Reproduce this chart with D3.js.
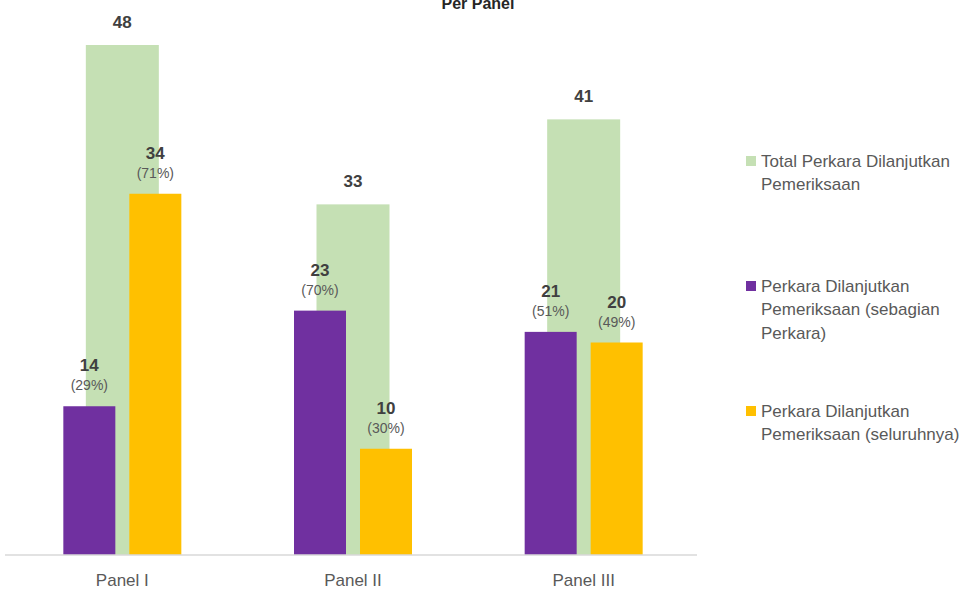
<!DOCTYPE html>
<html><head><meta charset="utf-8">
<script src="https://cdn.jsdelivr.net/npm/d3@7"></script>
<style>body{margin:0;background:#fff}svg{display:block;font-family:"Liberation Sans",Arial,sans-serif}</style>
</head><body><svg id="c" width="960" height="589"></svg>
<script>
const categories = ["Panel I", "Panel II", "Panel III"];
const totalValues = [48, 33, 41];
const sebagianValues = [14, 23, 21];
const seluruhnyaValues = [34, 10, 20];
const sebagianPct = ["(29%)", "(70%)", "(51%)"];
const seluruhnyaPct = ["(71%)", "(30%)", "(49%)"];
const legendLabels = [
  ["Total Perkara Dilanjutkan", "Pemeriksaan"],
  ["Perkara Dilanjutkan", "Pemeriksaan (sebagian", "Perkara)"],
  ["Perkara Dilanjutkan", "Pemeriksaan (seluruhnya)"]
];
const colors = ["#c5e0b4", "#7030a0", "#ffc000"];

const svg = d3.select("#c");
const x = d3.scaleBand().domain(categories).range([7, 699]);
const y = d3.scaleLinear().domain([0, 48]).range([555, 45]);

// title (partially cut, as in the reference)
svg.append("text").attr("x", 478).attr("y", 9).attr("text-anchor", "middle")
  .attr("font-weight", "bold").attr("font-size", 16).attr("fill", "#262626").text("Per Panel");

const g = svg.append("g");
const cx = d => x(d) + x.bandwidth() / 2;

g.selectAll(".tot").data(categories).join("rect")
  .attr("x", d => cx(d) - 36.5).attr("width", 73)
  .attr("y", (d, i) => y(totalValues[i])).attr("height", (d, i) => y(0) - y(totalValues[i]))
  .attr("fill", colors[0]);
g.selectAll(".seb").data(categories).join("rect")
  .attr("x", d => cx(d) - 59).attr("width", 52)
  .attr("y", (d, i) => y(sebagianValues[i])).attr("height", (d, i) => y(0) - y(sebagianValues[i]))
  .attr("fill", colors[1]);
g.selectAll(".sel").data(categories).join("rect")
  .attr("x", d => cx(d) + 7).attr("width", 52)
  .attr("y", (d, i) => y(seluruhnyaValues[i])).attr("height", (d, i) => y(0) - y(seluruhnyaValues[i]))
  .attr("fill", colors[2]);

// axis
const ax = svg.append("g").attr("transform", "translate(0,555)")
  .call(d3.axisBottom(x).tickSize(0).tickPadding(19));
ax.select(".domain").attr("stroke", "#d9d9d9").attr("stroke-width", 1.5)
  .attr("d", "M5,0H697");
ax.selectAll("text").attr("font-size", 17).attr("fill", "#595959")
  .attr("font-family", "Liberation Sans, Arial, sans-serif");

// labels
const valLab = (xs, ys, t) => svg.append("text").attr("x", xs).attr("y", ys)
  .attr("text-anchor", "middle").attr("font-weight", "bold").attr("font-size", 17)
  .attr("fill", "#404040").text(t);
const pctLab = (xs, ys, t) => svg.append("text").attr("x", xs).attr("y", ys)
  .attr("text-anchor", "middle").attr("font-size", 14)
  .attr("fill", "#595959").text(t);

categories.forEach((c, i) => {
  valLab(cx(c), y(totalValues[i]) - 17, totalValues[i]);
  valLab(cx(c) - 33, y(sebagianValues[i]) - 35, sebagianValues[i]);
  pctLab(cx(c) - 33, y(sebagianValues[i]) - 16, sebagianPct[i]);
  valLab(cx(c) + 33, y(seluruhnyaValues[i]) - 35, seluruhnyaValues[i]);
  pctLab(cx(c) + 33, y(seluruhnyaValues[i]) - 16, seluruhnyaPct[i]);
});

// legend
const legTops = [161, 286, 411];
legendLabels.forEach((lines, i) => {
  svg.append("rect").attr("x", 746).attr("y", legTops[i] - 5).attr("width", 10).attr("height", 10)
    .attr("fill", colors[i]);
  const t = svg.append("text").attr("font-size", 17).attr("fill", "#595959");
  lines.forEach((l, j) => t.append("tspan").attr("x", 761).attr("y", legTops[i] + 6 + j * 23.3).text(l));
});
</script></body></html>
